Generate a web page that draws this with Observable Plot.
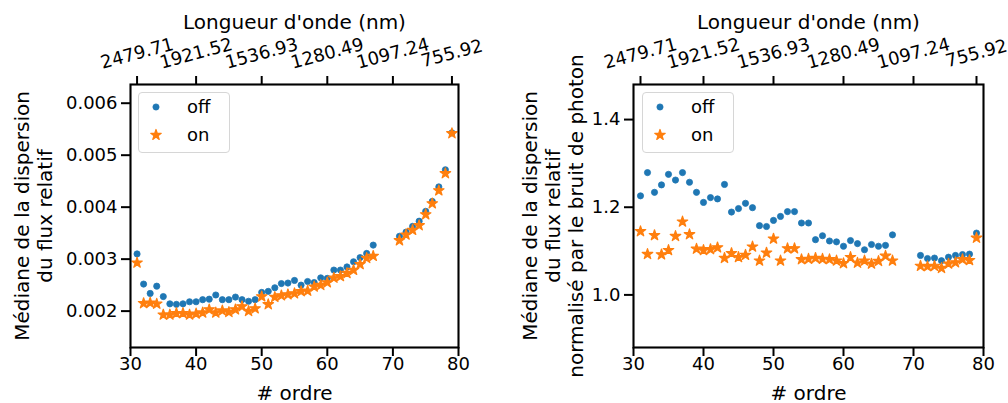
<!DOCTYPE html>
<html><head><meta charset="utf-8">
<script src="https://cdn.jsdelivr.net/npm/d3@7"></script>
<script src="https://cdn.jsdelivr.net/npm/@observablehq/plot@0.6"></script>
<style>
body{margin:0;background:#fff;}
#wrap{display:flex;width:1008px;height:403px;}
.panel{position:relative;width:504px;height:403px;}
.legend{position:absolute;left:138px;top:92px;width:92px;height:61px;border:1px solid #d6d6d6;border-radius:4px;background:rgba(255,255,255,0.85);box-sizing:border-box;}
.legend svg{position:absolute;left:0;top:0;}
</style></head>
<body>
<div id="wrap"></div>
<script>
const orders = [31,32,33,34,35,36,37,38,39,40,41,42,43,44,45,46,47,48,49,50,51,52,53,54,55,56,57,58,59,60,61,62,63,64,65,66,67,71,72,73,74,75,76,77,78,79];
const offRel = [0.0031,0.00252,0.00234,0.00248,0.00228,0.00214,0.00213,0.00214,0.00218,0.00218,
  0.00222,0.00223,0.00231,0.00222,0.00222,0.00227,0.00222,0.00219,0.00222,0.00236,
  0.00238,0.00245,0.00253,0.00254,0.00259,0.0025,0.00257,0.00255,0.00264,0.00263,
  0.00279,0.00279,0.00285,0.00295,0.00303,0.00311,0.00327,
  0.00344,0.00352,0.00363,0.00373,0.00392,0.00411,0.00439,0.00472,0.00543];
const onRel = [0.00293,0.00215,0.00216,0.00214,0.00193,0.00193,0.00196,0.00196,0.00193,0.00195,
  0.00197,0.00203,0.00197,0.00201,0.00198,0.00203,0.00209,0.002,0.00205,0.00228,
  0.00213,0.00227,0.0023,0.00232,0.00234,0.00238,0.00239,0.00247,0.0025,0.00255,
  0.00264,0.00267,0.00273,0.00279,0.0029,0.00302,0.00306,
  0.00336,0.00347,0.00356,0.00365,0.00386,0.00407,0.00432,0.00465,0.00542];
const offNorm = [1.226,1.279,1.234,1.251,1.275,1.262,1.279,1.257,1.234,1.211,
  1.222,1.219,1.252,1.189,1.197,1.209,1.199,1.158,1.156,1.170,
  1.179,1.190,1.190,1.164,1.164,1.126,1.135,1.123,1.121,1.111,
  1.124,1.117,1.103,1.115,1.111,1.113,1.137,
  1.090,1.083,1.084,1.078,1.086,1.090,1.092,1.093,1.141];
const onNorm = [1.145,1.093,1.136,1.092,1.102,1.134,1.167,1.138,1.105,1.102,
  1.104,1.108,1.084,1.095,1.086,1.091,1.110,1.078,1.096,1.128,
  1.078,1.106,1.106,1.081,1.082,1.084,1.082,1.081,1.078,1.072,
  1.086,1.073,1.078,1.071,1.077,1.089,1.078,
  1.066,1.065,1.066,1.061,1.071,1.074,1.081,1.079,1.130];
const xTicks = [30,40,50,60,70,80];
const topTicks = [31,40,50,60,70,79];
const waveLabels = ["2479.71","1921.52","1536.93","1280.49","1097.24","755.92"];
const yTicksRel = [0.002,0.003,0.004,0.005,0.006];
const yTicksNorm = [1.0,1.2,1.4];
const seriesNames = ["off","on"];
const colors = ["#1f77b4","#ff7f0e"];
const FONT = "DejaVu Sans";
const DOT_R = 3.1, STAR_R = 3.3;

function panel({off, on, yDomain, yTicks, yFormat, ylabel, marginLeft, marginRight, labelDx}) {
  const offData = orders.map((o,i)=>({x:o,y:off[i]}));
  const onData = orders.map((o,i)=>({x:o,y:on[i]}));
  return Plot.plot({
    width: 504, height: 403,
    marginLeft, marginRight, marginTop: 84, marginBottom: 56,
    style: {fontFamily: FONT, color: "black", background: "white", overflow: "visible"},
    x: {domain: [30, 80], label: null},
    y: {domain: yDomain, label: null},
    marks: [
      Plot.dot(offData, {x:"x", y:"y", r:DOT_R, fill: colors[0], stroke: colors[0], strokeWidth: 0.8}),
      Plot.dot(onData, {x:"x", y:"y", r:STAR_R, symbol:"star", fill: colors[1], stroke: colors[1], strokeWidth: 1.2, strokeLinejoin:"round"}),
      Plot.frame({stroke:"black", strokeWidth:2.1}),
      Plot.axisX({anchor:"bottom", ticks: xTicks, tickSize:9, tickPadding:1, strokeWidth:2, fontSize:18, label:null, tickFormat: d3.format("d")}),
      Plot.axisY({anchor:"left", ticks: yTicks, tickSize:9, tickPadding:4, strokeWidth:2, fontSize:18, label:null, tickFormat: yFormat}),
      Plot.axisX({anchor:"top", ticks: topTicks, tickSize:9, strokeWidth:2, label:null, tickFormat: () => ""}),
      Plot.text(topTicks, {x: d=>d, text: (d,i)=>waveLabels[i], frameAnchor:"top", lineAnchor:"middle", dy:-31, rotate:-15, fontSize:18, textAnchor:"middle"}),
      Plot.text(["Longueur d'onde (nm)"], {frameAnchor:"top", lineAnchor:"middle", textAnchor:"middle", dy:-62, fontSize:20}),
      Plot.text(["# ordre"], {frameAnchor:"bottom", lineAnchor:"middle", textAnchor:"middle", dy:46, fontSize:20}),
      Plot.text([ylabel], {frameAnchor:"left", textAnchor:"middle", lineAnchor:"middle", dx: labelDx, rotate:-90, fontSize:20, lineHeight:1.15})
    ]
  });
}

function legend() {
  const div = document.createElement("div");
  div.className = "legend";
  const star = d3.symbol(d3.symbolStar, STAR_R*STAR_R*Math.PI)();
  div.innerHTML = `<svg width="92" height="61" font-family="${FONT}" font-size="18">
    <circle cx="17" cy="14" r="${DOT_R}" fill="${colors[0]}" stroke="${colors[0]}" stroke-width="0.8"></circle>
    <path d="${star}" transform="translate(17,42)" fill="${colors[1]}" stroke="${colors[1]}" stroke-width="1.2" stroke-linejoin="round"></path>
    <text x="48" y="20" fill="black">${seriesNames[0]}</text>
    <text x="48" y="48" fill="black">${seriesNames[1]}</text>
  </svg>`;
  return div;
}

const wrap = document.getElementById("wrap");
const p1 = document.createElement("div"); p1.className = "panel";
p1.appendChild(panel({off: offRel, on: onRel, yDomain:[0.0013, 0.00636], yTicks: yTicksRel, yFormat: d3.format(".3f"),
  ylabel: "Médiane de la dispersion\ndu flux relatif", marginLeft:130, marginRight:46, labelDx:-97}));
p1.appendChild(legend());
const p2 = document.createElement("div"); p2.className = "panel";
p2.appendChild(panel({off: offNorm, on: onNorm, yDomain:[0.88, 1.48], yTicks: yTicksNorm, yFormat: d3.format(".1f"),
  ylabel: "Médiane de la dispersion\ndu flux relatif\nnormalisé par le bruit de photon", marginLeft:129, marginRight:25, labelDx:-81}));
p2.appendChild(legend());
wrap.appendChild(p1); wrap.appendChild(p2);
</script>
</body></html>
